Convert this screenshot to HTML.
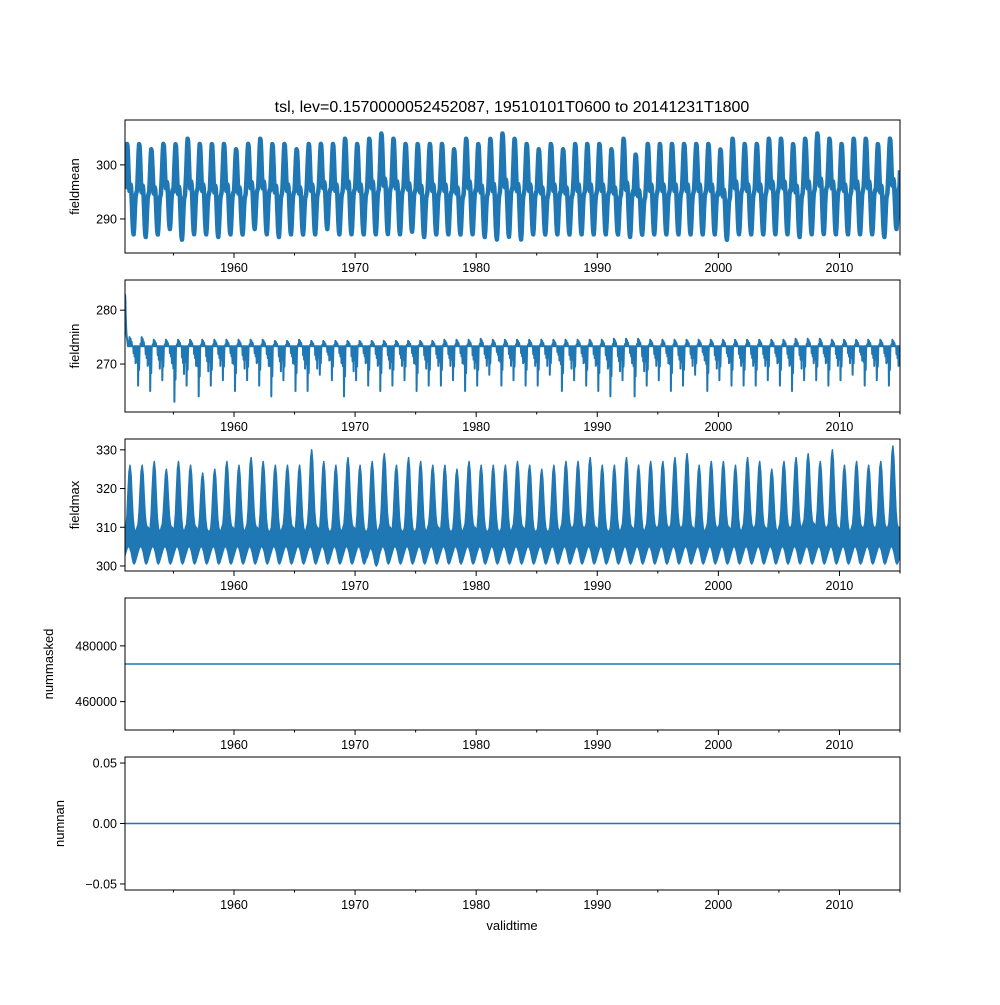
<!DOCTYPE html>
<html><head><meta charset="utf-8"><style>
body{margin:0;background:#fff}
svg text{font-family:"Liberation Sans","DejaVu Sans",sans-serif;fill:#000}
</style></head><body>
<svg id="fig" width="1000" height="1000" xmlns="http://www.w3.org/2000/svg">
<rect width="1000" height="1000" fill="#fff"/>
<text x="512" y="112" font-size="16" text-anchor="middle">tsl, lev=0.1570000052452087, 19510101T0600 to 20141231T1800</text>
<text x="512" y="930" font-size="13" text-anchor="middle">validtime</text>
</svg>
<script>
const years=[];for(let y=1951;y<=2014;y++)years.push(y);
const xTicks=[1960,1970,1980,1990,2000,2010];
const xMinor=[1955,1965,1975,1985,1995,2005,2015];
const meanMax=[305,305,304,305,305,306,305,305,305,304,305,306,305,305,304,305,305,305,306,305,306,307,306,305,305,305,305,304,306,305,306,307,306,305,304,305,304,305,305,305,304,306,303,305,305,305,305,305,305,304,306,305,305,306,306,305,306,307,306,305,306,306,305,306];
const meanMin=[286,285.5,286,287,285,286,286,285.5,286,286,287,286,285.5,286,286,286,287,286,286,286,286,286,286,286.5,285.5,286,286,286,286,285.5,285,285.5,285,286,286,286,286,286,286,286,286,285.5,286,286,286,286,286,286,286,285,286,286,286,286,286,285.5,286,286,286,286,286,286,285.5,287];
const minDip=[267,266,265,267,263,266,264,266,267,265,267,266,264,267,265,265,268,267,264,267,266,265,266,267,265,266,266,267,265,266,268,266,267,266,266,268,265,267,266,265,264,267,264,266,267,265,266,268,265,267,266,266,266,267,266,265,267,267,266,267,268,266,267,266];
const minHigh=[275,275,274.5,274.5,274.5,274.5,274.5,274.5,274.5,274.5,274.5,274.5,274.3,274.3,274.5,274.3,274.3,274.3,274.3,274.3,274.3,274.3,274.3,274.3,274.3,274.3,274.5,274.5,274.5,274.7,274.5,274.5,274.5,274.5,274.5,274.5,274.5,274.5,274.5,274.5,274.7,274.7,274.7,274.5,274.5,274.5,274.5,274.5,274.5,274.5,274.5,274.5,274.5,274.5,274.5,274.7,274.7,274.7,274.5,274.5,274.5,274.5,274.5,274.5];
const minBase=273.3;
const minStart=[283,282,279,277,275.5,275,274.5];
const maxMax=[326,326,327,325,327,326,324,325,327,326,328,327,326,326,326,330,327,326,328,326,327,329,326,328,327,326,326,325,327,326,326,326,327,326,325,326,327,327,328,326,326,328,326,327,327,328,329,326,327,327,326,328,327,325,327,328,329,327,330,326,327,326,327,331];
const maxMin=[300.5,300.5,300.5,300.5,300.5,300.5,300.5,300.5,300.5,300.5,300.5,300.5,300.5,300.5,300.5,300.5,300.5,300.5,300.5,300.5,300,300.5,300.5,300.5,300.5,300.5,300.5,300.5,300.5,300.5,300.5,300.5,300.5,300.5,300.5,300.5,300.5,300.5,300.5,300.5,300.5,300.5,300.5,300.5,300.5,300.5,300.5,300.5,300.5,300.5,300.5,300.5,300.5,300.5,300.5,300.5,300.5,300.5,300.5,300.5,300.5,300.5,300.5,300.5];
const maxTrough=[309,310,309,310,309,310,309,309,310,309,310,309,309,310,309,310,309,309,310,309,309,310,309,309,309,310,309,309,310,309,309,309,310,309,309,309,310,310,310,309,309,310,309,310,310,310,310,309,310,310,309,310,310,309,310,310,311,310,310,309,310,310,310,310];
const maskedValue=473500;
const nanValue=0;
const profMean=[0.5,0.62,0.76,0.9,0.98,0.96,0.85,0.7,0.56,0.48,0.5,0.55,0.52,0.42,0.28,0.14,0.05,0.02,0.08,0.2,0.33,0.42,0.45,0.47];
const profMin=[-0.4,0,-1,0,-0.6,0,0,0.3,0,1,0.2,0.8,0,0.5,0,0,0,-0.2,0,-0.3,0,-0.5,0,-0.2];
const profMaxUpper=[0.0,0.05,0.25,0.6,0.9,1.0,0.85,0.5,0.2,0.05,0.0,0.0];
const profMaxLower=[0.5,0.7,0.9,1.0,1.0,0.9,0.7,0.4,0.1,0.0,0.1,0.3];

const NS="http://www.w3.org/2000/svg";
const svg=document.getElementById('fig');
const X0=125,X1=900,D0=1951,D1=2015;
const xs=t=>X0+(t-D0)/(D1-D0)*(X1-X0);
function el(tag,attrs,parent){const e=document.createElementNS(NS,tag);for(const k in attrs)e.setAttribute(k,attrs[k]);(parent||svg).appendChild(e);return e;}

const panels=[
 {name:'fieldmean',top:120,bot:253,lo:283.7,hi:308.3,ticks:[290,300],lab:['290','300']},
 {name:'fieldmin',top:280,bot:412,lo:261.1,hi:285.6,ticks:[270,280],lab:['270','280']},
 {name:'fieldmax',top:439,bot:571,lo:298.7,hi:332.8,ticks:[300,310,320,330],lab:['300','310','320','330']},
 {name:'nummasked',top:598,bot:730,lo:maskedValue*0.95,hi:maskedValue*1.05,ticks:[460000,480000],lab:['460000','480000']},
 {name:'numnan',top:757,bot:890,lo:-0.055,hi:0.055,ticks:[-0.05,0,0.05],lab:['\u22120.05','0.00','0.05']}
];
panels.forEach((p,i)=>{
 const g=el('g',{});
 
 
 const ys=v=>p.bot-(v-p.lo)/(p.hi-p.lo)*(p.bot-p.top);
 const P=q=>xs(q[0]).toFixed(1)+','+ys(q[1]).toFixed(1);
 const clip=el('clipPath',{id:'clip'+i},g);
 el('rect',{x:X0,y:p.top,width:X1-X0,height:p.bot-p.top},clip);
 let pts=[];
 if(i===2){
  const up=[],low=[];
  years.forEach((y,k)=>{
   profMaxUpper.forEach((f,j)=>up.push([y+j/12,maxTrough[k]+(maxMax[k]-maxTrough[k])*f]));
   profMaxLower.forEach((f,j)=>low.push([y+j/12,maxMin[k]+4.5*f]));
  });
  const poly=el('polygon',{points:up.map(P).join(' ')+' '+low.reverse().map(P).join(' '),fill:'#1f77b4',stroke:'#1f77b4','stroke-width':1.5,'stroke-linejoin':'round','clip-path':'url(#clip2)'},g);
  
  
 } else {
 if(i===0){years.forEach((y,k)=>profMean.forEach((f,j)=>pts.push([y+j/24,meanMin[k]+0.8+(meanMax[k]-meanMin[k]-1.6)*f])));pts.push([D1,meanMin[63]+12]);}
 else if(i===1){minStart.forEach((v,j)=>pts.push([1951+j*0.03,v]));
  years.forEach((y,k)=>profMin.forEach((f,j)=>{const t=y+j/24;if(k===0&&j<6)return;pts.push([t,f>=0?minBase+f*(minHigh[k]-minBase):minBase+(-f)*(minDip[k]-minBase)]);if(f===0)pts.push([t+1/48,minBase]);}));}
 else if(i===3){pts=[[D0,maskedValue],[D1,maskedValue]];}
 else {pts=[[D0,nanValue],[D1,nanValue]];}
 const line=el('polyline',{points:pts.map(P).join(' '),fill:'none',stroke:'#1f77b4','stroke-width':i===0?4.5:(i===1?2:1.5),'stroke-linejoin':'round','clip-path':'url(#clip'+i+')'},g);
 
 
 }
 const fr=el('rect',{x:X0,y:p.top,width:X1-X0,height:p.bot-p.top,fill:'none',stroke:'#000','stroke-width':1},g);
 
 
 xTicks.forEach(t=>{el('line',{x1:xs(t),x2:xs(t),y1:p.bot,y2:p.bot+5,stroke:'#000'},g);
  const tx=el('text',{x:xs(t),y:p.bot+19,'font-size':12.5,'text-anchor':'middle'},g);tx.textContent=t;
  
  });
 xMinor.forEach(t=>el('line',{x1:xs(t),x2:xs(t),y1:p.bot,y2:p.bot+2.5,stroke:'#000'},g));
 p.ticks.forEach((t,j)=>{const y=ys(t);el('line',{x1:X0-5,x2:X0,y1:y,y2:y,stroke:'#000'},g);
  const tx=el('text',{x:X0-8,y:y+4.5,'font-size':12.5,'text-anchor':'end'},g);tx.textContent=p.lab[j];
  
  });
 const cy=(p.top+p.bot)/2;
 const lx=i===3?53:(i===4?64:79);
 const yl=el('text',{x:lx,y:cy,'font-size':13,'text-anchor':'middle',transform:`rotate(-90 ${lx} ${cy})`},g);yl.textContent=p.name;
 
 
});
</script>
</body></html>
